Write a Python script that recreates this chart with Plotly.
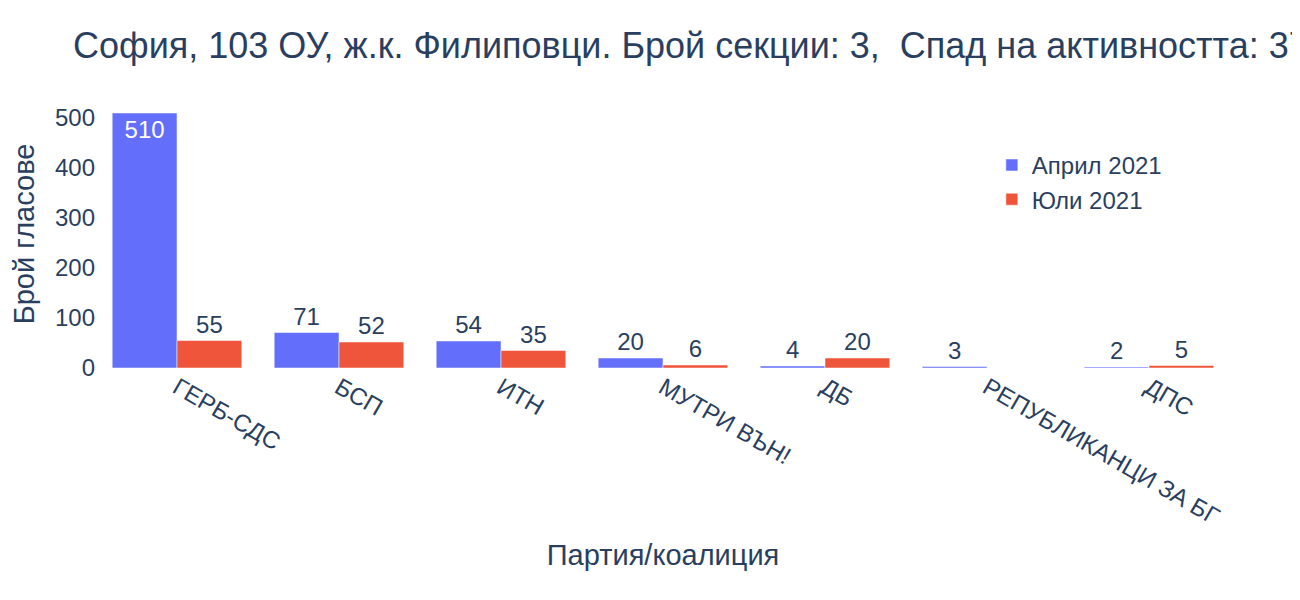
import plotly.graph_objects as go

parties = ["ГЕРБ-СДС", "БСП", "ИТН", "МУТРИ ВЪН!", "ДБ", "РЕПУБЛИКАНЦИ ЗА БГ", "ДПС"]
april = [510, 71, 54, 20, 4, 3, 2]
july = [55, 52, 35, 6, 20, None, 5]

fig = go.Figure()
fig.add_bar(name="Април 2021", x=parties, y=april, text=april, textposition="auto",
            marker_color="#636EFA")
fig.add_bar(name="Юли 2021", x=parties, y=july, text=july, textposition="auto",
            marker_color="#EF553B")
fig.data[0].textposition = ["inside", "outside", "outside", "outside", "outside", "outside", "outside"]
fig.update_layout(
    width=1300, height=600, template="plotly_white",
    font=dict(family="Liberation Sans, Arial", size=24, color="#2a3f5f"),
    title=dict(text="София, 103 ОУ, ж.к. Филиповци. Брой секции: 3,  Спад на активността: 37%",
               x=0.05, xanchor="left", y=0.937, yanchor="middle", font=dict(size=36)),
    margin=dict(l=86, r=78, t=92, b=240),
    barmode="group", bargap=0.2, bargroupgap=0,
    legend=dict(x=0.79, y=0.84, bgcolor="rgba(0,0,0,0)"),
    xaxis=dict(title=dict(text="Партия/коалиция"), tickangle=30, showgrid=False),
    yaxis=dict(title=dict(text="Брой гласове"), showgrid=False, zeroline=False,
               range=[0, 536], dtick=100),
    uniformtext=dict(mode="show", minsize=10),
)
fig.update_traces(textfont_size=24, cliponaxis=False)
fig.write_html("out.html")
